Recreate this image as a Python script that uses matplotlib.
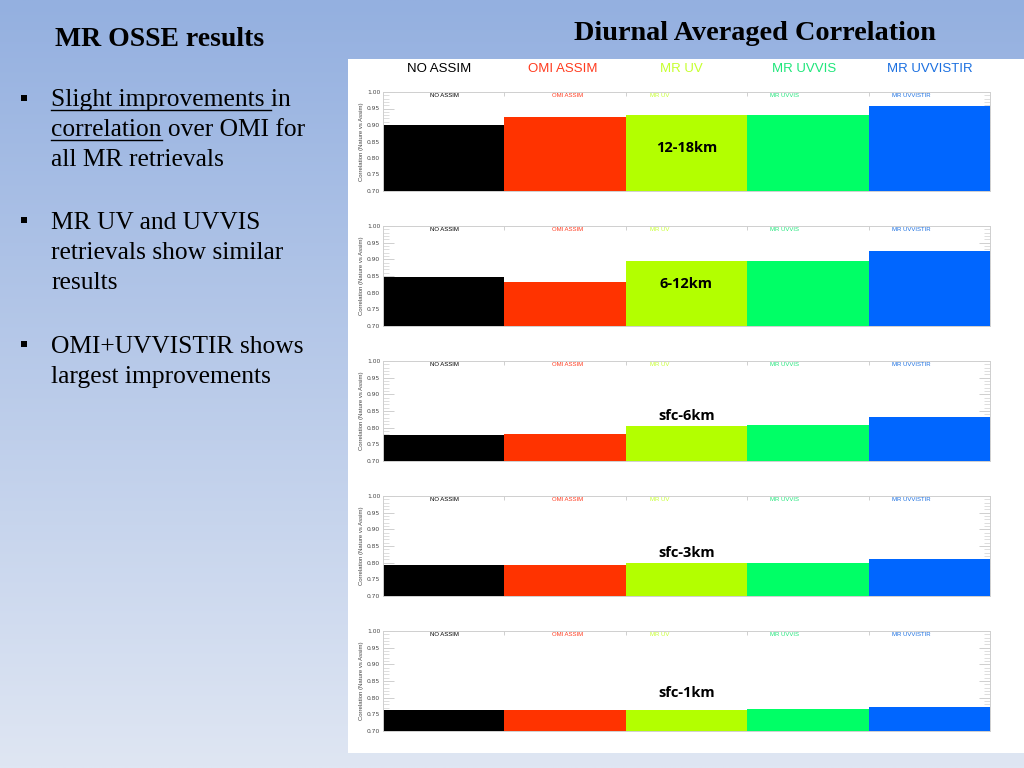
import matplotlib
matplotlib.use('Agg')
import matplotlib.pyplot as plt
from matplotlib.patches import Rectangle
from matplotlib.lines import Line2D
import numpy as np

# data
runs = ['NO ASSIM', 'OMI ASSIM', 'MR UV', 'MR UVVIS', 'MR UVVISTIR']
layers = ['12-18km', '6-12km', 'sfc-6km', 'sfc-3km', 'sfc-1km']
corr_12_18 = [0.901, 0.924, 0.930, 0.929, 0.957]
corr_6_12 = [0.846, 0.833, 0.895, 0.894, 0.926]
corr_sfc_6 = [0.778, 0.780, 0.805, 0.809, 0.832]
corr_sfc_3 = [0.792, 0.793, 0.798, 0.800, 0.811]
corr_sfc_1 = [0.763, 0.763, 0.764, 0.766, 0.772]
yticks = [0.70, 0.75, 0.80, 0.85, 0.90, 0.95, 1.00]

bar_colors = ['#000000', '#ff3300', '#b3ff00', '#00ff66', '#0066ff']
head_colors = ['#000000', '#ff3b1f', '#c6ff2e', '#1ee67a', '#1a6fe0']

W, H = 1024, 768


def px(x, y):
    # pixel (from top-left) -> figure coords
    return x / W, 1 - y / H


fig = plt.figure(figsize=(W / 100, H / 100), dpi=100)

# slide background gradient
bg = fig.add_axes([0, 0, 1, 1], zorder=-10)
top = np.array([148, 176, 224]) / 255
bot = np.array([223, 230, 243]) / 255
t = np.linspace(0, 1, 256)[:, None, None]
grad = top * (1 - t) + bot * t
grad = np.repeat(grad, 4, axis=1)
bg.imshow(grad, aspect='auto', extent=[0, 1, 0, 1])
bg.set_xlim(0, 1)
bg.set_ylim(0, 1)
bg.axis('off')

# white picture area
x0, y0 = px(348, 753)
x1, y1 = px(1024, 59)
fig.add_artist(Rectangle((x0, y0), x1 - x0, y1 - y0, transform=fig.transFigure,
                         facecolor='white', edgecolor='none', zorder=-5))

# titles
fig.text(*px(160, 39), 'MR OSSE results', family='Liberation Serif', weight='bold',
         fontsize=20, ha='center', va='center')
fig.text(*px(755, 33), 'Diurnal Averaged Correlation', family='Liberation Serif',
         weight='bold', fontsize=20.3, ha='center', va='center')

# bullets
bullet_lines = [
    [('Slight improvements in', 106), ('correlation over OMI for', 136), ('all MR retrievals', 166)],
    [('MR UV and UVVIS', 229), ('retrievals show similar', 259), ('results', 289)],
    [('OMI+UVVISTIR shows', 353), ('largest improvements', 383)],
]
bullet_y = [97.5, 220, 343.5]
fs_body = 18.4
for lines, by in zip(bullet_lines, bullet_y):
    bx, byy = px(21, by + 3)
    fig.add_artist(Rectangle((bx, byy), 6 / W, 6 / H, transform=fig.transFigure,
                             facecolor='black', edgecolor='none'))
    for s, yb in lines:
        fig.text(*px(51, yb), s, family='Liberation Serif', fontsize=fs_body,
                 ha='left', va='baseline')

# underlines for "Slight improvements " and "correlation"
fig.canvas.draw()
rend = fig.canvas.get_renderer()
for s, yb in [('Slight improvements ', 106), ('correlation', 136)]:
    tmp = fig.text(*px(51, yb), s.replace(' ', '\u00a0'), family='Liberation Serif',
                   fontsize=fs_body, ha='left', va='baseline')
    ext = tmp.get_window_extent(rend)
    tmp.remove()
    ly = 1 - (yb + 3.5) / H
    fig.add_artist(Line2D([ext.x0 / W, ext.x1 / W], [ly, ly], transform=fig.transFigure,
                          color='black', lw=1.0))

# header row above the panels
head_x = [439, 563, 681, 804, 930]
for name, hx, c in zip(runs, head_x, head_colors):
    fig.text(*px(hx, 69), name, family='Liberation Sans', fontsize=9.5, color=c,
             ha='center', va='center')

# panels
series = [corr_12_18, corr_6_12, corr_sfc_6, corr_sfc_3, corr_sfc_1]
panel_px = [(92, 191), (226, 326), (361, 461), (496, 596), (631, 731)]
label_y = [0.830, 0.826, 0.835, 0.829, 0.814]
inner_x = [0.51, 1.52, 2.28, 3.31, 4.35]
left_px, right_px = 383, 990
for vals, name, (ptop, pbot), ly in zip(series, layers, panel_px, label_y):
    l, b = px(left_px, pbot)
    ax = fig.add_axes([l, b, (right_px - left_px) / W, (pbot - ptop) / H])
    ax.set_axisbelow(True)
    ax.bar(np.arange(len(vals)), np.array(vals) - 0.70, bottom=0.70, width=1.0,
           align='edge', color=bar_colors, edgecolor='none', zorder=2)
    ax.set_xlim(0, len(vals))
    ax.set_ylim(0.70, 1.00)
    ax.set_yticks(yticks)
    ax.set_yticklabels(['%.2f' % v for v in yticks])
    ax.set_yticks(np.arange(0.70, 1.0001, 0.01), minor=True)
    ax.tick_params(axis='y', which='major', direction='in', length=8, width=0.6,
                   color='#c8c8c8', labelsize=4.3, labelcolor='#444444', pad=2,
                   left=True, right=True)
    ax.tick_params(axis='y', which='minor', direction='in', length=4.5, width=0.5,
                   color='#d0d0d0', left=True, right=True)
    ax.set_xticks([1, 2, 3, 4])
    ax.tick_params(axis='x', which='major', direction='in', length=3, width=0.6,
                   color='#c8c8c8', top=True, bottom=False, labelbottom=False)
    for sp in ax.spines.values():
        sp.set_color('#cfcfcf')
        sp.set_linewidth(0.7)
    ax.set_ylabel('Correlation (Nature vs Assim)', fontsize=4.3, color='#444444',
                  labelpad=2, family='Liberation Sans')
    for r, ix, c in zip(runs, inner_x, head_colors):
        ax.text(ix, 0.965, r, fontsize=4.3, color=c, ha='center', va='center',
                family='Liberation Sans', transform=ax.get_xaxis_transform())
    ax.text(2.5, ly, name, fontsize=10.5, weight='bold', family='Open Sans',
            ha='center', va='center', color='black', zorder=3)

fig.savefig('out.png', dpi=100)
